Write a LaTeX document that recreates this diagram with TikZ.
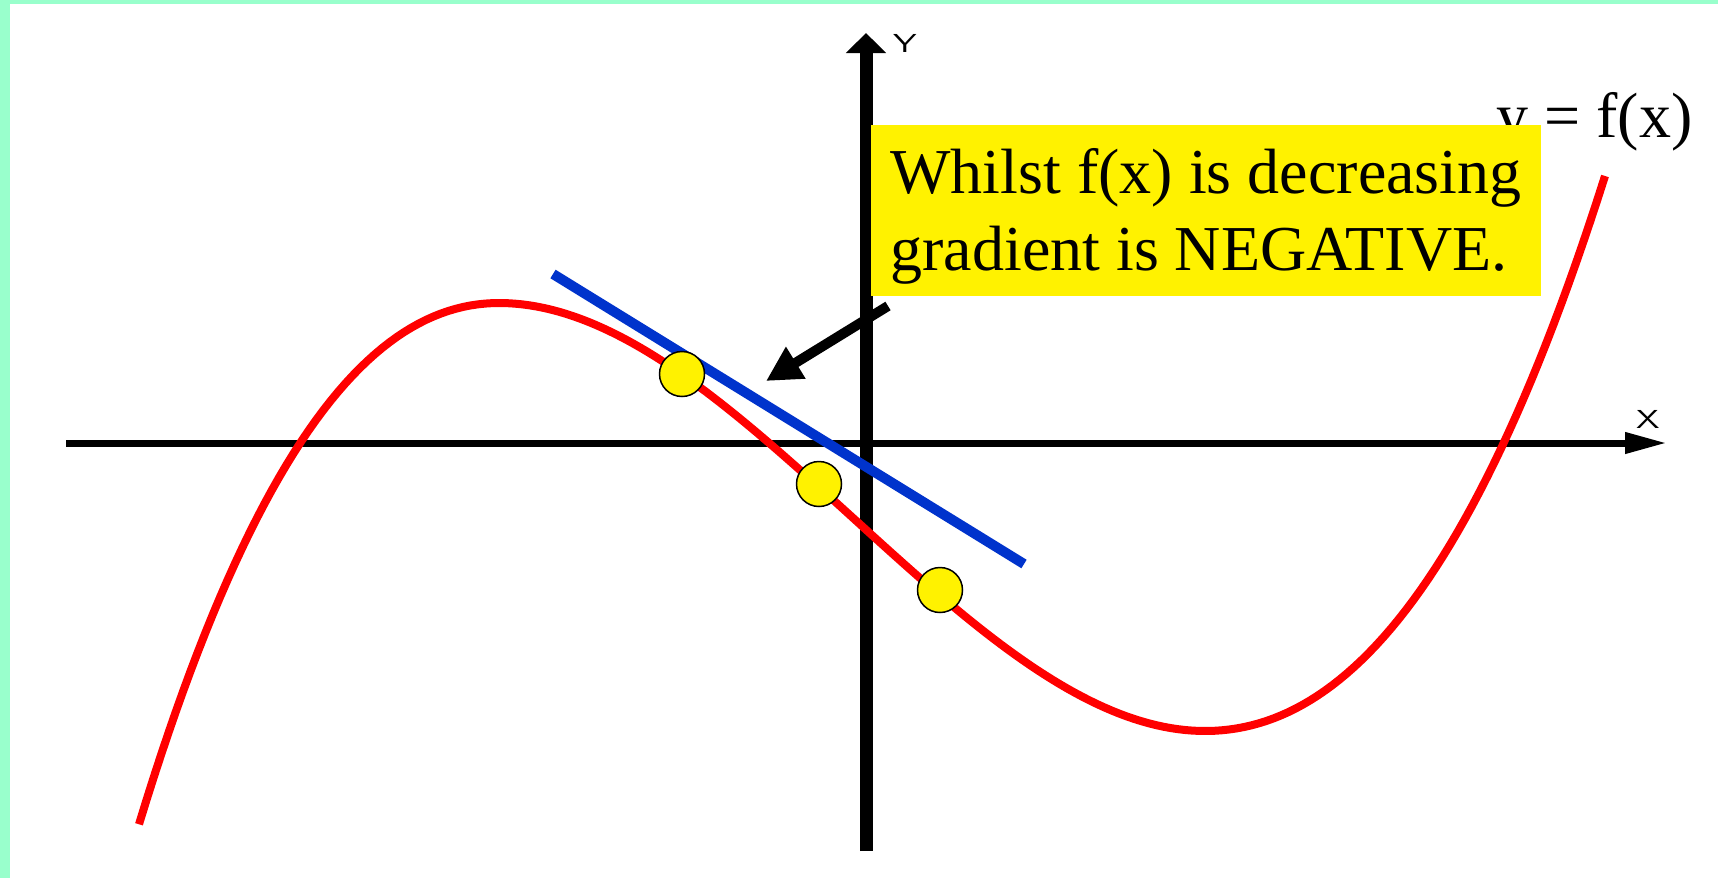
\documentclass[tikz,border=0pt]{standalone}
\usepackage{fontspec}
\setmainfont{Liberation Serif}
\usetikzlibrary{arrows.meta}
\definecolor{mint}{RGB}{153,255,204}
\definecolor{tanblue}{RGB}{0,51,204}

\begin{document}
\begin{tikzpicture}[x=0.5pt,y=-0.5pt,
  declare function={sx(\u)=(\u<499)*(-1+(\u-499)*1.07/353)+(\u>=499)*(\u<=1205)*((\u-852)/353)+(\u>1205)*(1+(\u-1205)*0.99/353);
    fy(\u)=517+321*sx(\u)-107*sx(\u)*sx(\u)*sx(\u);},
  axis/.style={line width=3.5pt,-{Triangle[length=21pt,width=10pt]}},
  fcurve/.style={red,line width=4pt},
  tangent/.style={tanblue,line width=5pt},
  dot/.style={circle,draw,fill=yellow,line width=0.75pt,minimum size=22.5pt,inner sep=0pt},
  notebox/.style={fill=yellow,minimum width=335pt,minimum height=85.5pt,inner sep=0pt,
    align=left,font=\fontsize{32}{38.5}\selectfont},
  pointer/.style={line width=5pt,-{Triangle[length=17.5pt,width=17.5pt]}},
  axlabel/.style={font=\sffamily\fontsize{13}{13}\selectfont,xscale=1.4,inner sep=0pt}]
  \useasboundingbox (0,0) rectangle (1718,878);
  \fill[white] (0,0) rectangle (1718,878);
  \fill[mint] (0,0) rectangle (10,878);
  \fill[mint] (0,0) rectangle (1718,4);
  \coordinate (xl) at (66,443);
  \coordinate (xr) at (1667,443);
  \coordinate (yb) at (866,851);
  \coordinate (yt) at (866,33);
  \draw[axis] (xl) -- (xr);
  \draw[line width=6.5pt,-{Triangle[length=10pt,width=19.5pt]}] (yb) -- (yt);
  \node[axlabel] (ylab) at (905,43) {Y};
  \node[axlabel] (xlab) at (1648,419) {X};
  \draw[fcurve] plot[domain=139:1605,samples=200] (\x,{fy(\x)});
  \coordinate (t1) at (553,274);
  \coordinate (t2) at (1024,564);
  \draw[tangent] (t1) -- (t2);
  \node[dot] (p1) at (682,374) {};
  \node[dot] (p2) at (819,484) {};
  \node[dot] (p3) at (940,590) {};
  \node[anchor=base west,inner sep=0pt,font=\fontsize{32}{38.5}\selectfont] (fx) at (1496,137) {y = f(x)};
  \node[notebox] (note) at (1206,210.5) {\rule{0pt}{28pt}Whilst f(x) is decreasing\\gradient is NEGATIVE.};
  \coordinate (tail) at (888,306);
  \coordinate (tip) at (766,381);
  \draw[pointer] (tail) -- (tip);
\end{tikzpicture}
\end{document}
